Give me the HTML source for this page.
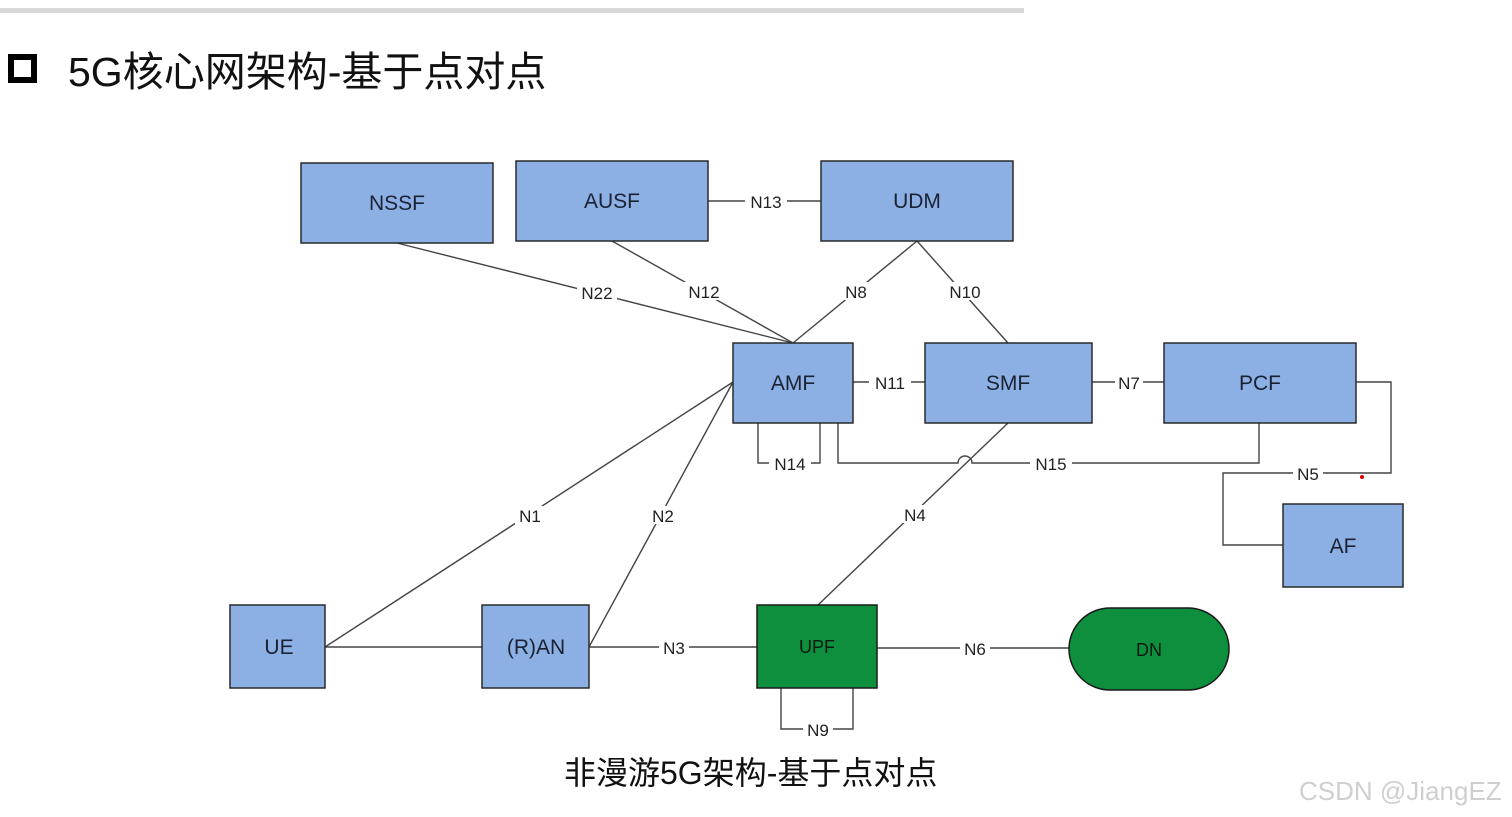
<!DOCTYPE html>
<html><head><meta charset="utf-8"><style>
html,body{margin:0;padding:0;background:#fff;width:1512px;height:817px;overflow:hidden}
svg{display:block}
</style></head><body>
<svg width="1512" height="817" xmlns="http://www.w3.org/2000/svg" font-family="'Liberation Sans','Noto Sans CJK SC',sans-serif">
<rect x="0" y="8" width="1024" height="5" fill="#d9d9d9"/>
<rect x="11" y="57" width="23" height="23" fill="none" stroke="#000" stroke-width="6"/>
<text x="68" y="86" font-size="41" fill="#111">5G核心网架构-基于点对点</text>
<g stroke="#444" stroke-width="1.4" fill="none">
<line x1="397" y1="243" x2="793" y2="343"/>
<line x1="612" y1="241" x2="793" y2="343"/>
<line x1="917" y1="241" x2="793" y2="343"/>
<line x1="917" y1="241" x2="1008" y2="343"/>
<line x1="708" y1="201" x2="821" y2="201"/>
<line x1="853" y1="382" x2="925" y2="382"/>
<line x1="1092" y1="382" x2="1164" y2="382"/>
<polyline points="1356,382 1391,382 1391,473 1223,473 1223,545 1283,545"/>
<polyline points="758,423 758,463 820,463 820,423"/>
<path d="M838,423 L838,463 L958,463 A7,7 0 0 1 972,463 L1259,463 L1259,423"/>
<line x1="1008" y1="423" x2="818" y2="605"/>
<line x1="733" y1="382" x2="325" y2="647"/>
<line x1="733" y1="382" x2="589" y2="647"/>
<line x1="325" y1="647" x2="482" y2="647"/>
<line x1="589" y1="647" x2="757" y2="647"/>
<line x1="877" y1="648" x2="1069" y2="648"/>
<polyline points="781,688 781,729 853,729 853,688"/>
</g>
<circle cx="1362" cy="477" r="2" fill="#d00"/>
<g fill="#8cb0e3" stroke="#2a2a2a" stroke-width="1.5">
<rect x="301" y="163" width="192" height="80"/>
<rect x="516" y="161" width="192" height="80"/>
<rect x="821" y="161" width="192" height="80"/>
<rect x="733" y="343" width="120" height="80"/>
<rect x="925" y="343" width="167" height="80"/>
<rect x="1164" y="343" width="192" height="80"/>
<rect x="1283" y="504" width="120" height="83"/>
<rect x="230" y="605" width="95" height="83"/>
<rect x="482" y="605" width="107" height="83"/>
</g>
<rect x="757" y="605" width="120" height="83" fill="#0e8f3e" stroke="#1a1a1a" stroke-width="1.5"/>
<rect x="1069" y="608" width="160" height="82" rx="41" fill="#0e8f3e" stroke="#1a1a1a" stroke-width="1.5"/>
<g font-size="21" fill="#1a2233" text-anchor="middle">
<text x="397" y="210">NSSF</text>
<text x="612" y="208">AUSF</text>
<text x="917" y="208">UDM</text>
<text x="793" y="390">AMF</text>
<text x="1008" y="390">SMF</text>
<text x="1260" y="390">PCF</text>
<text x="1343" y="553">AF</text>
<text x="279" y="654">UE</text>
<text x="536" y="654">(R)AN</text>
</g>
<g font-size="18" fill="#0b1a10" text-anchor="middle">
<text x="817" y="653">UPF</text>
<text x="1149" y="656">DN</text>
</g>
<g font-size="17" fill="#222" text-anchor="middle">
<g fill="#fff"><rect x="745" y="192" width="42" height="18"/><rect x="577" y="284" width="40" height="18"/><rect x="683" y="282" width="42" height="18"/><rect x="841" y="282" width="30" height="18"/><rect x="944" y="282" width="42" height="18"/><rect x="869" y="373" width="42" height="18"/><rect x="1115" y="373" width="28" height="18"/><rect x="769" y="454" width="42" height="18"/><rect x="1030" y="454" width="42" height="18"/><rect x="1293" y="464" width="30" height="18"/><rect x="515" y="506" width="30" height="18"/><rect x="648" y="506" width="30" height="18"/><rect x="900" y="505" width="30" height="18"/><rect x="659" y="638" width="30" height="18"/><rect x="960" y="639" width="30" height="18"/><rect x="803" y="720" width="30" height="18"/></g>
<text x="766" y="208">N13</text>
<text x="597" y="299">N22</text>
<text x="704" y="298">N12</text>
<text x="856" y="298">N8</text>
<text x="965" y="298">N10</text>
<text x="890" y="389">N11</text>
<text x="1129" y="389">N7</text>
<text x="790" y="470">N14</text>
<text x="1051" y="470">N15</text>
<text x="1308" y="480">N5</text>
<text x="530" y="522">N1</text>
<text x="663" y="522">N2</text>
<text x="915" y="521">N4</text>
<text x="674" y="654">N3</text>
<text x="975" y="655">N6</text>
<text x="818" y="736">N9</text>
</g>
<text x="564" y="784" font-size="32" fill="#111">非漫游5G架构-基于点对点</text>
<text x="1299" y="800" font-size="26" fill="#cfcfcf">CSDN @JiangEZ</text>
</svg>
</body></html>
